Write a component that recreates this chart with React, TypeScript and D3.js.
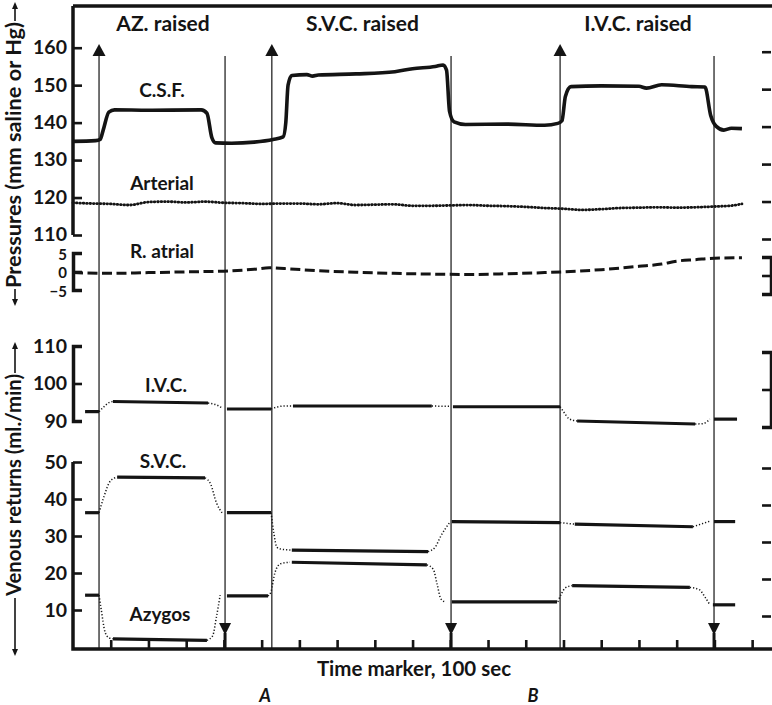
import React, { useEffect, useRef } from "react";
import * as d3 from "d3";

// times are in seconds from the left edge of the record
const raiseTimes = [69, 527, 1291];
const lowerTimes = [403, 1002, 1699];
const periodLabels = ["AZ. raised", "S.V.C. raised", "I.V.C. raised"];
const timeTicks = [100, 200, 300, 400, 500, 600, 700, 800, 900, 1000, 1100, 1200, 1300, 1400, 1500, 1600, 1700, 1800];

const pressureTicks = [110, 120, 130, 140, 150, 160];
const atrialTicks = [-5, 0, 5];
const ivcTicks = [90, 100, 110];
const venousTicks = [10, 20, 30, 40, 50];

// C.S.F. pressure (mm saline)
const csf = [
  [0, 135], [60, 135.2], [72, 135.5], [80, 138], [95, 142.8], [110, 143.4], [200, 143.3], [340, 143.4],
  [355, 142.5], [368, 136], [378, 134.6], [420, 134.5], [480, 134.8], [530, 135.5], [557, 136.2],
  [564, 140], [570, 150], [580, 152.6], [620, 152.8], [635, 152.4], [650, 152.7], [750, 153],
  [853, 153.6], [900, 154.4], [960, 155], [981, 155.4], [990, 154], [998, 143], [1010, 140.2],
  [1040, 139.5], [1150, 139.6], [1250, 139.3], [1285, 139.8], [1296, 140.5], [1305, 147], [1320, 149.6],
  [1400, 149.8], [1500, 149.7], [1520, 149.2], [1560, 150.1], [1640, 149.6], [1675, 149.5], [1690, 142],
  [1705, 139], [1725, 138], [1745, 138.5], [1773, 138.4],
];

// arterial pressure (mm Hg)
const arterial = [
  [0, 118.6], [50, 118.4], [100, 118.3], [150, 118.0], [200, 118.8], [250, 118.9], [300, 118.7],
  [350, 118.9], [400, 118.6], [450, 118.5], [500, 118.3], [550, 118.4], [600, 118.4], [650, 118.2],
  [700, 118.5], [750, 118.0], [800, 118.1], [850, 118.2], [900, 117.8], [950, 117.8], [1000, 117.9],
  [1050, 118.0], [1100, 117.8], [1150, 117.7], [1200, 117.5], [1250, 117.2], [1300, 117.0],
  [1350, 116.7], [1400, 116.9], [1450, 117.2], [1500, 117.3], [1550, 117.4], [1600, 117.3],
  [1650, 117.4], [1700, 117.6], [1750, 117.9], [1773, 118.3],
];

// right atrial pressure (mm Hg)
const rAtrial = [
  [0, -0.3], [100, -0.5], [200, -0.3], [300, -0.1], [400, 0.1], [480, 0.6], [520, 1.0], [560, 0.8],
  [650, 0.2], [750, -0.2], [850, -0.5], [950, -0.7], [1050, -0.8], [1150, -0.6], [1250, -0.3],
  [1300, -0.1], [1400, 0.5], [1500, 1.4], [1560, 2.0], [1600, 2.8], [1650, 3.2], [1700, 3.6], [1773, 3.7],
];

// venous returns (ml./min): recorded readings and the change-over between them
const ivcRecorded = [
  [[32, 92.5], [69, 92.5]],
  [[106, 95.2], [358, 94.8]],
  [[408, 93.2], [525, 93.2]],
  [[583, 94.0], [951, 94.0]],
  [[1007, 93.8], [1291, 93.8]],
  [[1336, 90.0], [1649, 89.2]],
  [[1699, 90.5], [1760, 90.5]],
];
const ivcTransition = [
  [[69, 92.5], [80, 93.6], [95, 94.9], [106, 95.2]],
  [[358, 94.8], [380, 94.3], [395, 93.5]],
  [[525, 93.2], [540, 93.7], [560, 94.0], [583, 94.0]],
  [[951, 94.0], [1000, 93.9]],
  [[1291, 93.8], [1300, 92.5], [1315, 90.6], [1336, 90.0]],
  [[1649, 89.2], [1670, 89.3], [1688, 90.5]],
];

const svcRecorded = [
  [[32, 36.3], [69, 36.3]],
  [[117, 45.9], [350, 45.7]],
  [[408, 36.3], [525, 36.3]],
  [[580, 26.2], [941, 25.8]],
  [[1004, 33.9], [1291, 33.6]],
  [[1330, 33.2], [1643, 32.5]],
  [[1699, 33.9], [1755, 33.9]],
];
const svcTransition = [
  [[69, 36.3], [80, 40], [100, 45], [117, 45.9]],
  [[350, 45.7], [365, 44], [380, 39], [395, 36.3]],
  [[525, 36.3], [532, 31], [540, 27], [549, 26.5], [580, 26.2]],
  [[941, 25.8], [960, 27], [975, 30], [1000, 33.9]],
  [[1291, 33.6], [1330, 33.2]],
  [[1643, 32.5], [1688, 34]],
];

const azygosRecorded = [
  [[32, 14.0], [69, 14.0]],
  [[106, 2.2], [355, 1.8]],
  [[408, 13.8], [517, 13.8]],
  [[580, 22.9], [938, 22.2]],
  [[1004, 12.2], [1283, 12.2]],
  [[1323, 16.6], [1635, 16.1]],
  [[1696, 11.4], [1755, 11.4]],
];
const azygosTransition = [
  [[69, 14], [75, 10], [85, 4], [95, 2.5], [106, 2.2]],
  [[355, 1.8], [370, 3], [380, 8], [390, 14]],
  [[517, 13.8], [525, 15], [535, 20], [550, 22.5], [575, 22.9]],
  [[938, 22.2], [955, 21], [965, 17], [975, 13], [986, 12.2]],
  [[1285, 12.2], [1295, 14.5], [1305, 16], [1323, 16.6]],
  [[1635, 16.1], [1660, 15.5], [1675, 13.5], [1688, 11.4]],
];

const W = 772;
const H = 705;
const FONT = "Lato, 'Open Sans', sans-serif";
const INK = "#141414";

const App = () => {
  const svgRef = useRef<SVGSVGElement>(null);

  useEffect(() => {
    const svg = d3.select(svgRef.current);
    svg.selectAll("*").remove();

    const left = 73;
    const right = 772;
    const top = 6;
    const base = 649;

    const x = d3.scaleLinear().domain([0, 1850]).range([left, 771]);
    const yP = d3.scaleLinear().domain([110, 160]).range([235, 47.7]);
    const yRA = d3.scaleLinear().domain([-5, 5]).range([290, 253]);
    const yIVC = d3.scaleLinear().domain([90, 110]).range([421, 346]);
    const yV = d3.scaleLinear().domain([0, 50]).range([647, 462]);

    // frame: top rule, left spines, time base
    svg.append("path")
      .attr("d", `M${left},${top}H${right}M${left},${top}V235M${left},${yV(50)}V${base}H${right}`)
      .attr("fill", "none").attr("stroke", INK).attr("stroke-width", 3.5);

    const styleAxis = (g, size) => {
      g.attr("font-family", FONT).attr("font-size", size).attr("font-weight", 700);
      g.selectAll(".tick line").attr("stroke", INK).attr("stroke-width", 2.6);
      g.selectAll(".domain").attr("stroke", INK).attr("stroke-width", 3.5);
      g.selectAll("text").attr("fill", INK);
    };

    const leftAxis = (scale, ticks, size, keepDomain) => {
      const g = svg.append("g").attr("transform", `translate(${left},0)`)
        .call(d3.axisLeft(scale).tickValues(ticks).tickSizeInner(-9).tickSizeOuter(-9).tickPadding(6));
      if (!keepDomain) g.select(".domain").remove();
      styleAxis(g, size);
      return g;
    };
    leftAxis(yP, pressureTicks, 19.5, false).selectAll("text").attr("dy", "0.3em");
    leftAxis(yRA, atrialTicks, 15, true).selectAll("text").attr("dy", "0.42em");
    leftAxis(yIVC, ivcTicks, 19.5, true);
    leftAxis(yV, venousTicks, 19.5, false);

    // unlabelled ticks on the right edge (the record sits a little skewed)
    const rightAxis = (scale, ticks, dy, keepDomain) => {
      const g = svg.append("g").attr("transform", `translate(${right - 1},${dy})`)
        .call(d3.axisRight(scale).tickValues(ticks).tickSizeInner(-9).tickSizeOuter(-9).tickFormat(() => ""));
      if (!keepDomain) g.select(".domain").remove();
      styleAxis(g, 10);
    };
    rightAxis(yP, pressureTicks, 4, false);
    rightAxis(yRA, atrialTicks, 4, true);
    rightAxis(yIVC, ivcTicks, 6, true);
    rightAxis(yV, venousTicks, 6, false);

    // time marker ticks
    const tg = svg.append("g").attr("transform", `translate(0,${base})`)
      .call(d3.axisBottom(x).tickValues(timeTicks).tickSizeInner(-9).tickSizeOuter(0).tickFormat(() => ""));
    tg.select(".domain").remove();
    styleAxis(tg, 10);

    // event lines and arrows
    raiseTimes.forEach(t => {
      const xx = x(t);
      svg.append("line").attr("x1", xx).attr("x2", xx).attr("y1", 54).attr("y2", base)
        .attr("stroke", INK).attr("stroke-width", 1.2);
      svg.append("path").attr("d", `M${xx},44L${xx + 6.5},56L${xx - 6.5},56Z`).attr("fill", INK);
    });
    lowerTimes.forEach(t => {
      const xx = x(t);
      svg.append("line").attr("x1", xx).attr("x2", xx).attr("y1", 56).attr("y2", 630)
        .attr("stroke", INK).attr("stroke-width", 1.2);
      svg.append("path").attr("d", `M${xx - 6},623L${xx + 6},623L${xx},635Z`).attr("fill", INK);
      svg.append("line").attr("x1", xx).attr("x2", xx).attr("y1", 633).attr("y2", base)
        .attr("stroke", INK).attr("stroke-width", 3);
    });

    const label = (txt, px, py, size, extra = {}) => {
      const t = svg.append("text").attr("x", px).attr("y", py).attr("text-anchor", "middle")
        .attr("font-family", FONT).attr("font-size", size).attr("font-weight", 700).attr("fill", INK).text(txt);
      Object.entries(extra).forEach(([k, v]) => t.attr(k, v));
      return t;
    };

    periodLabels.forEach((txt, i) => label(txt, x((raiseTimes[i] + lowerTimes[i]) / 2) + 1, 31, 21));

    // traces
    const lineFor = ys => d3.line().x(d => x(d[0])).y(d => ys(d[1])).curve(d3.curveMonotoneX);

    svg.append("path").datum(csf).attr("d", lineFor(yP)).attr("fill", "none")
      .attr("stroke", INK).attr("stroke-width", 3.6).attr("stroke-linejoin", "round");
    svg.append("path").datum(arterial).attr("d", lineFor(yP)).attr("fill", "none")
      .attr("stroke", INK).attr("stroke-width", 2.8).attr("stroke-linecap", "round")
      .attr("stroke-dasharray", "0.6 2.8");
    svg.append("path").datum(rAtrial).attr("d", lineFor(yRA)).attr("fill", "none")
      .attr("stroke", INK).attr("stroke-width", 3).attr("stroke-dasharray", "10 4.5");

    const venous = (recorded, transition, ys) => {
      transition.forEach(seg => {
        svg.append("path").datum(seg).attr("d", lineFor(ys)).attr("fill", "none")
          .attr("stroke", INK).attr("stroke-width", 1.5).attr("stroke-dasharray", "1.2 2");
      });
      recorded.forEach(seg => {
        svg.append("path").datum(seg).attr("d", lineFor(ys)).attr("fill", "none")
          .attr("stroke", INK).attr("stroke-width", 3.2);
      });
    };
    venous(ivcRecorded, ivcTransition, yIVC);
    venous(svcRecorded, svcTransition, yV);
    venous(azygosRecorded, azygosTransition, yV);

    // trace names
    label("C.S.F.", 162, 97, 19);
    label("Arterial", 162, 190, 19);
    label("R. atrial", 162, 258, 19);
    label("I.V.C.", 166, 392, 19);
    label("S.V.C.", 163, 468, 19);
    label("Azygos", 160, 621, 19);

    // time base captions
    label("Time marker, 100 sec", 414, 676, 20.5);
    label("A", 265, 702, 18, { "font-style": "italic" });
    label("B", 533, 702, 18, { "font-style": "italic" });

    // axis titles with arrows
    const arrow = (x0, y0, y1) => {
      const dir = y1 < y0 ? -1 : 1;
      svg.append("line").attr("x1", x0).attr("x2", x0).attr("y1", y0).attr("y2", y1 - dir * 4)
        .attr("stroke", INK).attr("stroke-width", 1.6);
      svg.append("path").attr("d", `M${x0},${y1}L${x0 + 3},${y1 - dir * 7}L${x0 - 3},${y1 - dir * 7}Z`).attr("fill", INK);
    };
    label("Pressures (mm saline or Hg)", 0, 0, 20, {
      transform: "translate(21,155) rotate(-90)", textLength: 266, lengthAdjust: "spacingAndGlyphs",
    });
    arrow(15, 21, 2);
    arrow(15, 289, 306);
    label("Venous returns (ml./min)", 0, 0, 20, {
      transform: "translate(21,485) rotate(-90)", textLength: 222, lengthAdjust: "spacingAndGlyphs",
    });
    arrow(15, 373, 342);
    arrow(15, 598, 656);
  }, []);

  return (
    <svg ref={svgRef} width={W} height={H} viewBox={`0 0 ${W} ${H}`}
      style={{ position: "absolute", left: 0, top: 0, background: "#fff" }} />
  );
};

export default App;
